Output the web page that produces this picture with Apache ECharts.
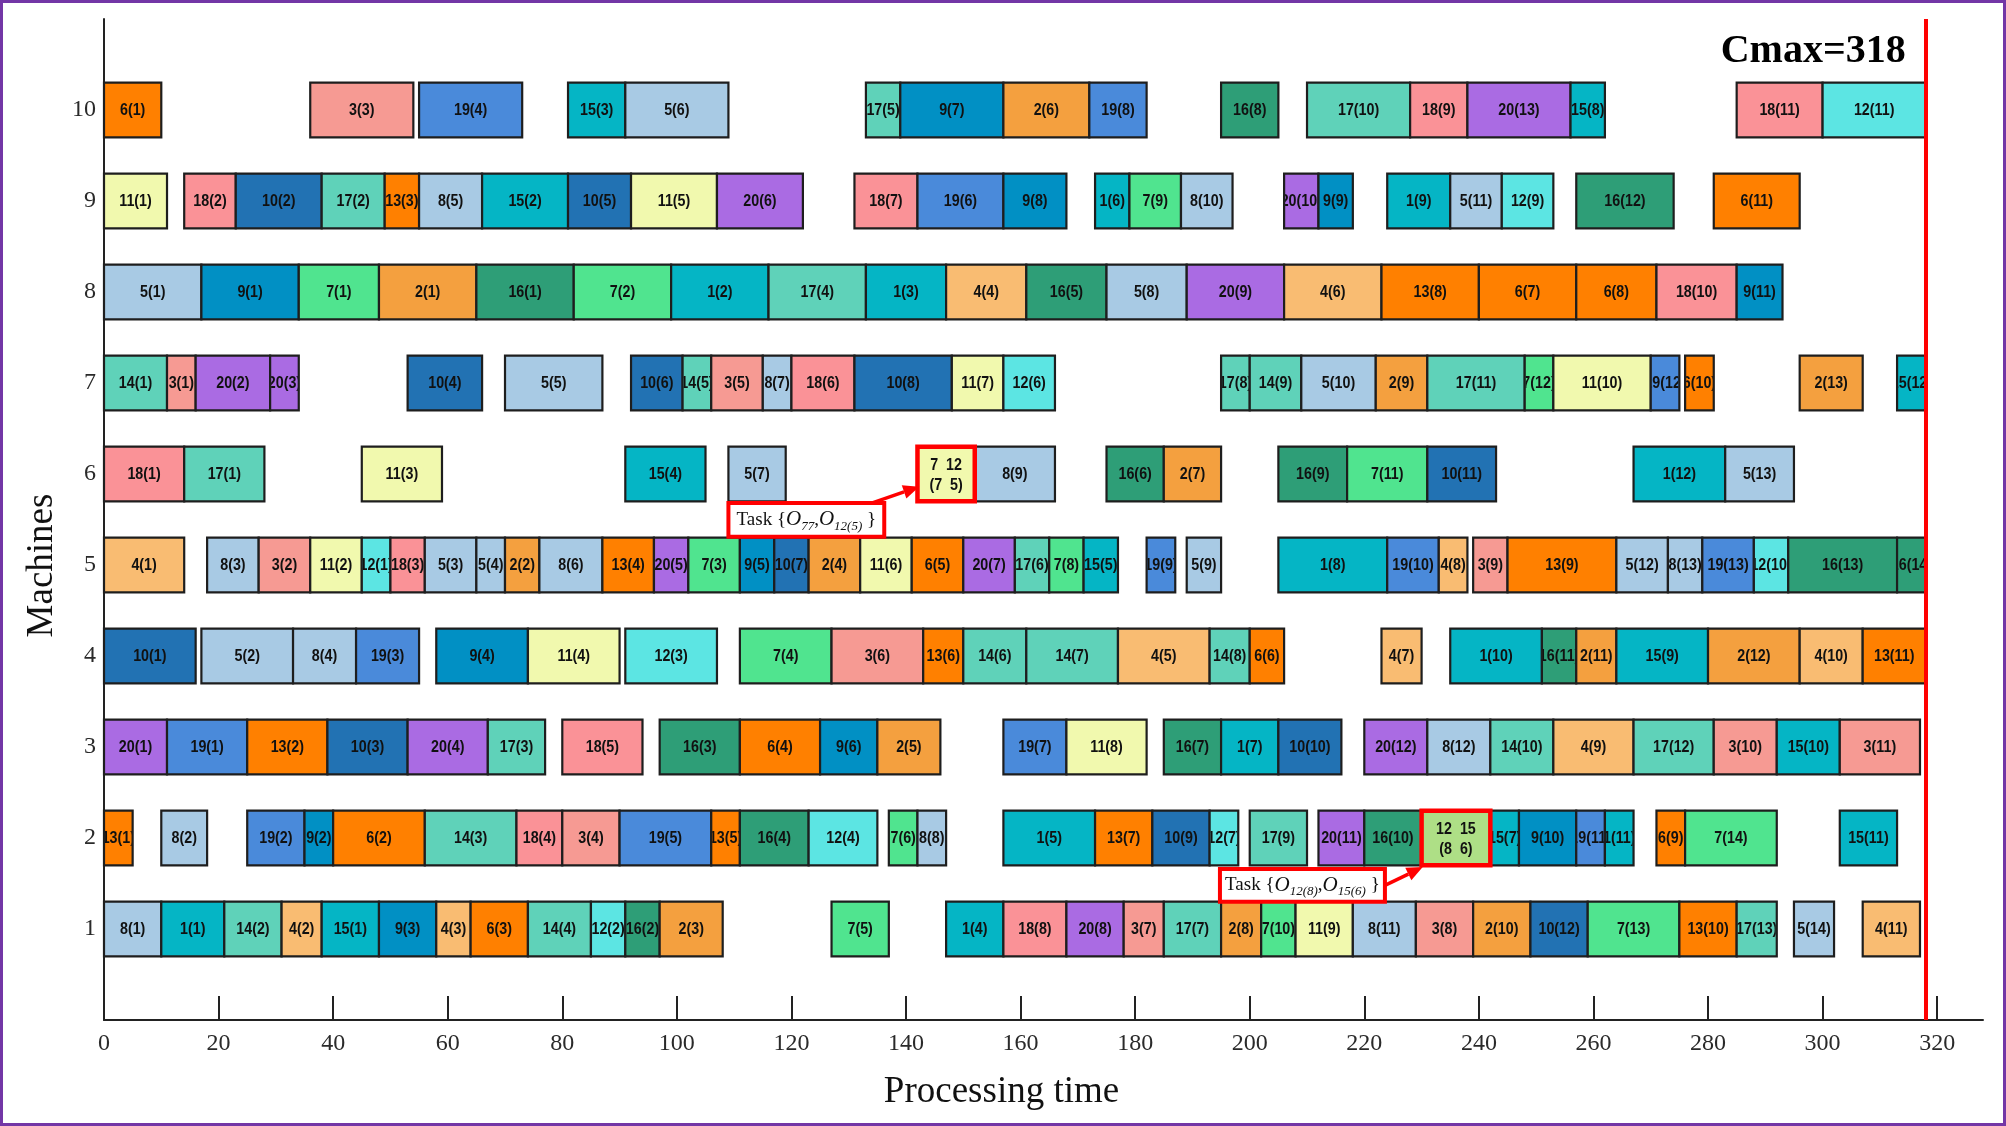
<!DOCTYPE html>
<html><head><meta charset="utf-8">
<script src="https://cdn.jsdelivr.net/npm/echarts@6/dist/echarts.min.js"></script>
<style>
html,body{margin:0;padding:0;background:#fff;}
#chart{position:absolute;left:0;top:0;width:2006px;height:1126px;}
#frame{position:absolute;left:0;top:0;width:2006px;height:1126px;box-sizing:border-box;border:3px solid #7336A6;pointer-events:none;}
</style></head><body>
<div id="chart"></div><div id="frame"></div>
<script>
// ---------------- data ----------------
const machineTicks = [1,2,3,4,5,6,7,8,9,10];
const timeTicks = [0,20,40,60,80,100,120,140,160,180,200,220,240,260,280,300,320];
const cmax = 318;
// each entry: [job, operation, start, end]
const m1 = [[8,1,0,10],[1,1,10,21],[14,2,21,31],[4,2,31,38],[15,1,38,48],[9,3,48,58],[4,3,58,64],[6,3,64,74],[14,4,74,85],[12,2,85,91],[16,2,91,97],[2,3,97,108],[7,5,127,137],[1,4,147,157],[18,8,157,168],[20,8,168,178],[3,7,178,185],[17,7,185,195],[2,8,195,202],[7,10,202,208],[11,9,208,218],[8,11,218,229],[3,8,229,239],[2,10,239,249],[10,12,249,259],[7,13,259,275],[13,10,275,285],[17,13,285,292],[5,14,295,302],[4,11,307,317]];
const m2 = [[13,1,0,5],[8,2,10,18],[19,2,25,35],[9,2,35,40],[6,2,40,56],[14,3,56,72],[18,4,72,80],[3,4,80,90],[19,5,90,106],[13,5,106,111],[16,4,111,123],[12,4,123,135],[7,6,137,142],[8,8,142,147],[1,5,157,173],[13,7,173,183],[10,9,183,193],[12,7,193,198],[17,9,200,210],[20,11,212,220],[16,10,220,230],[15,7,242,247],[9,10,247,257],[19,11,257,262],[1,11,262,267],[6,9,271,276],[7,14,276,292],[15,11,303,313]];
const m3 = [[20,1,0,11],[19,1,11,25],[13,2,25,39],[10,3,39,53],[20,4,53,67],[17,3,67,77],[18,5,80,94],[16,3,97,111],[6,4,111,125],[9,6,125,135],[2,5,135,146],[19,7,157,168],[11,8,168,182],[16,7,185,195],[1,7,195,205],[10,10,205,216],[20,12,220,231],[8,12,231,242],[14,10,242,253],[4,9,253,267],[17,12,267,281],[3,10,281,292],[15,10,292,303],[3,11,303,317]];
const m4 = [[10,1,0,16],[5,2,17,33],[8,4,33,44],[19,3,44,55],[9,4,58,74],[11,4,74,90],[12,3,91,107],[7,4,111,127],[3,6,127,143],[13,6,143,150],[14,6,150,161],[14,7,161,177],[4,5,177,193],[14,8,193,200],[6,6,200,206],[4,7,223,230],[1,10,235,251],[16,11,251,257],[2,11,257,264],[15,9,264,280],[2,12,280,296],[4,10,296,307],[13,11,307,318]];
const m5 = [[4,1,0,14],[8,3,18,27],[3,2,27,36],[11,2,36,45],[12,1,45,50],[18,3,50,56],[5,3,56,65],[5,4,65,70],[2,2,70,76],[8,6,76,87],[13,4,87,96],[20,5,96,102],[7,3,102,111],[9,5,111,117],[10,7,117,123],[2,4,123,132],[11,6,132,141],[6,5,141,150],[20,7,150,159],[17,6,159,165],[7,8,165,171],[15,5,171,177],[19,9,182,187],[5,9,189,195],[1,8,205,224],[19,10,224,233],[4,8,233,238],[3,9,239,245],[13,9,245,264],[5,12,264,273],[8,13,273,279],[19,13,279,288],[12,10,288,294],[16,13,294,313],[16,14,313,318]];
const m6 = [[18,1,0,14],[17,1,14,28],[11,3,45,59],[15,4,91,105],[5,7,109,119],[8,9,152,166],[16,6,175,185],[2,7,185,195],[16,9,205,217],[7,11,217,231],[10,11,231,243],[1,12,267,283],[5,13,283,295]];
const m7 = [[14,1,0,11],[3,1,11,16],[20,2,16,29],[20,3,29,34],[10,4,53,66],[5,5,70,87],[10,6,92,101],[14,5,101,106],[3,5,106,115],[8,7,115,120],[18,6,120,131],[10,8,131,148],[11,7,148,157],[12,6,157,166],[17,8,195,200],[14,9,200,209],[5,10,209,222],[2,9,222,231],[17,11,231,248],[7,12,248,253],[11,10,253,270],[19,12,270,275],[6,10,276,281],[2,13,296,307],[15,12,313,318]];
const m8 = [[5,1,0,17],[9,1,17,34],[7,1,34,48],[2,1,48,65],[16,1,65,82],[7,2,82,99],[1,2,99,116],[17,4,116,133],[1,3,133,147],[4,4,147,161],[16,5,161,175],[5,8,175,189],[20,9,189,206],[4,6,206,223],[13,8,223,240],[6,7,240,257],[6,8,257,271],[18,10,271,285],[9,11,285,293]];
const m9 = [[11,1,0,11],[18,2,14,23],[10,2,23,38],[17,2,38,49],[13,3,49,55],[8,5,55,66],[15,2,66,81],[10,5,81,92],[11,5,92,107],[20,6,107,122],[18,7,131,142],[19,6,142,157],[9,8,157,168],[1,6,173,179],[7,9,179,188],[8,10,188,197],[20,10,206,212],[9,9,212,218],[1,9,224,235],[5,11,235,244],[12,9,244,253],[16,12,257,274],[6,11,281,296]];
const m10 = [[6,1,0,10],[3,3,36,54],[19,4,55,73],[15,3,81,91],[5,6,91,109],[17,5,133,139],[9,7,139,157],[2,6,157,172],[19,8,172,182],[16,8,195,205],[17,10,210,228],[18,9,228,238],[20,13,238,256],[15,8,256,262],[18,11,285,300],[12,11,300,318]];
const machineRows = [m1,m2,m3,m4,m5,m6,m7,m8,m9,m10];
// merged (parallel) tasks: [machine, start, end, line1, line2]
const merged = [[6,142,152,'7  12','(7  5)'],[2,230,242,'12  15','(8  6)']];
const noteSubs = [['77','12(5)'],['12(8)','15(6)']];

// ---------------- styles ----------------
const jobColor = {1:'#05B5C5',2:'#F4A03F',3:'#F69A93',4:'#F9BC72',5:'#A8CAE4',6:'#FF8000',7:'#50E48F',8:'#A8CAE4',9:'#0190C4',10:'#2272B3',
  11:'#F1F9AE',12:'#5CE5E3',13:'#FF8000',14:'#5FD2B9',15:'#05B5C5',16:'#2E9E77',17:'#5FD2B9',18:'#FA9297',19:'#4A8ADA',20:'#AA6BE3'};
const mergedFill = ['#F1F9AE','#AEDF86'];
// annotation layout (data units): box [x1,x2,yTop,yBottom], arrow from -> to
const noteLayout = [
  {box:[109,136.2,5.68,5.31], from:[134,5.68], to:[142.3,5.86]},
  {box:[194.8,223.6,1.66,1.30], from:[223.6,1.48], to:[230.2,1.68]}
];
const BAR_H = 0.6;
const SX = 0.84;
const LABEL_FONT = '"Liberation Sans",Arial,sans-serif';
const SERIF = '"Liberation Serif","Times New Roman",serif';

const barData = [];
machineRows.forEach((row, i) => row.forEach(d => barData.push([d[2], d[3], i + 1, d[0], d[1]])));

function labelText(x, y, txt, w, h) {
  const el = {type:'text', x:x, y:y, scaleX:SX,
    style:{text:txt, fill:'#111', fontSize:17, fontWeight:'bold', fontFamily:LABEL_FONT, align:'center', verticalAlign:'middle'}};
  if (w != null) el.clipPath = {type:'rect', shape:{x:(-w/2+1)/SX, y:-h/2, width:(w-2)/SX, height:h}};
  return el;
}
function barItem(params, api) {
  const a = api.coord([api.value(0), api.value(2)]);
  const b = api.coord([api.value(1), api.value(2)]);
  const h = api.size([0, BAR_H])[1];
  const w = b[0] - a[0];
  const job = api.value(3), op = api.value(4);
  return {type:'group', children:[
    {type:'rect', shape:{x:a[0], y:a[1]-h/2, width:w, height:h},
     style:{fill:jobColor[job], stroke:'#1e1e1e', lineWidth:2.2}},
    labelText(a[0]+w/2, a[1], job+'('+op+')', w, h)
  ]};
}
function mergedItem(params, api) {
  const i = params.dataIndex;
  const a = api.coord([api.value(0), api.value(2)]);
  const b = api.coord([api.value(1), api.value(2)]);
  const h = api.size([0, BAR_H])[1];
  const w = b[0] - a[0];
  return {type:'group', children:[
    {type:'rect', shape:{x:a[0], y:a[1]-h/2, width:w, height:h},
     style:{fill:mergedFill[i], stroke:'#FF0000', lineWidth:4.5}},
    labelText(a[0]+w/2, a[1]-9, merged[i][3]),
    labelText(a[0]+w/2, a[1]+11, merged[i][4])
  ]};
}
function noteItem(params, api) {
  const i = params.dataIndex, L = noteLayout[i], s = noteSubs[i];
  const p1 = api.coord([L.box[0], L.box[2]]), p2 = api.coord([L.box[1], L.box[3]]);
  const f = api.coord(L.from), t = api.coord(L.to);
  const dx = t[0]-f[0], dy = t[1]-f[1], len = Math.sqrt(dx*dx+dy*dy);
  const ux = dx/len, uy = dy/len, hl = 16, hw = 7;
  const bx = t[0]-ux*hl, by = t[1]-uy*hl;
  return {type:'group', children:[
    {type:'line', shape:{x1:f[0], y1:f[1], x2:bx, y2:by}, style:{stroke:'#FF0000', lineWidth:3.5}},
    {type:'polygon', shape:{points:[[t[0],t[1]],[bx-uy*hw,by+ux*hw],[bx+uy*hw,by-ux*hw]]}, style:{fill:'#FF0000'}},
    {type:'rect', shape:{x:p1[0], y:p1[1], width:p2[0]-p1[0], height:p2[1]-p1[1]}, style:{fill:'#fff', stroke:'#FF0000', lineWidth:4}},
    {type:'text', x:(p1[0]+p2[0])/2, y:(p1[1]+p2[1])/2,
     style:{text:'Task {{o|O}{s|'+s[0]+'},{o|O}{s|'+s[1]+'} }', fill:'#111', fontSize:19, fontFamily:SERIF, align:'center', verticalAlign:'middle', lineHeight:26,
       rich:{o:{fontSize:21, fontStyle:'italic', fontFamily:SERIF, fill:'#111', lineHeight:26},
             s:{fontSize:13, fontStyle:'italic', fontFamily:SERIF, fill:'#111', verticalAlign:'bottom', lineHeight:12}}}}
  ]};
}

const chart = echarts.init(document.getElementById('chart'), null, {renderer:'canvas'});
chart.setOption({
  animation:false,
  backgroundColor:'#fff',
  grid:{left:104, right:23, top:19, bottom:106},
  xAxis:{type:'value', min:0, max:328, interval:20,
    name:'Processing time', nameLocation:'middle', nameGap:54,
    nameTextStyle:{fontFamily:SERIF, fontSize:37, color:'#111', padding:[0,84,0,0]},
    axisLine:{show:true, lineStyle:{color:'#222', width:2}},
    axisTick:{show:true, inside:true, length:24, lineStyle:{color:'#222', width:2}, customValues:timeTicks},
    axisLabel:{fontFamily:SERIF, fontSize:24, color:'#2a2a2a', margin:12, customValues:timeTicks},
    splitLine:{show:false}},
  yAxis:{type:'value', min:0, max:11, interval:1,
    name:'Machines', nameLocation:'middle', nameGap:34, nameRotate:90,
    nameTextStyle:{fontFamily:SERIF, fontSize:37, color:'#111', padding:[0,92,0,0]},
    axisLine:{show:true, lineStyle:{color:'#222', width:2}},
    axisTick:{show:false},
    axisLabel:{fontFamily:SERIF, fontSize:24, color:'#2a2a2a', margin:8, customValues:machineTicks},
    splitLine:{show:false}},
  graphic:[],
  series:[
    {type:'custom', renderItem:barItem, data:barData, encode:{x:[0,1], y:2},
     markLine:{silent:true, symbol:'none', label:{show:false}, lineStyle:{color:'#FF0000', width:4, type:'solid'}, data:[{xAxis:cmax}]}},
    {type:'custom', renderItem:mergedItem, data:merged.map(d => [d[1], d[2], d[0]]), encode:{x:[0,1], y:2}, z:3},
    {type:'custom', renderItem:noteItem, data:noteLayout.map(n => [n.box[0], n.box[2]]), encode:{x:0, y:1}, z:4}
  ]
});
const cp = chart.convertToPixel({gridIndex:0}, [cmax, 10.6]);
chart.setOption({graphic:[{type:'text', right: 2006 - cp[0] + 20, top: 32,
  style:{text:'Cmax=' + cmax, fontFamily:SERIF, fontWeight:'bold', fontSize:40, fill:'#000'}}]});
</script>
</body></html>
